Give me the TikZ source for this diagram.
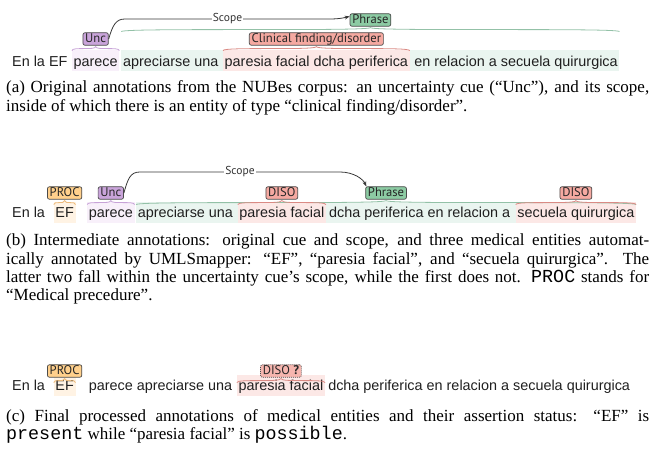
\documentclass[tikz,border=0pt]{standalone}
\usepackage{fontspec}
\setmainfont{Liberation Serif}
\setmonofont{Liberation Mono}[Scale=1.08]
\newfontfamily\sentfont{Liberation Sans}
\newfontfamily\labfont{PT Sans}
\usetikzlibrary{calc,arrows.meta,backgrounds}

\definecolor{boxline}{HTML}{4A4A4A}
\definecolor{uncfill}{HTML}{C9A4DA}
\definecolor{phrfill}{HTML}{8CCBA3}
\definecolor{disofill}{HTML}{F5A9A1}
\definecolor{procfill}{HTML}{FFD08C}
\definecolor{uncbg}{HTML}{F8F0FA}
\definecolor{phrbg}{HTML}{EAF5F0}
\definecolor{disobg}{HTML}{FCE8E6}
\definecolor{procbg}{HTML}{FFF3E4}
\definecolor{unccurly}{HTML}{C7A3D7}
\definecolor{phrcurly}{HTML}{93C1A7}
\definecolor{disocurly}{HTML}{DA8A84}
\definecolor{proccurly}{HTML}{EDBB7C}

\hbadness=10000

% highlight behind a run of words, from the first node to the last
\newcommand\hlspan[3]{%
  \fill[#1] ($(#2.base west)+(-1.5,-16)$) rectangle ($(#3.base east)+(1.5,5)$);}
% thin curly bracket joining a label to the words it annotates
\newcommand\spancurly[4]{%
  \draw[#1, curly]
    ($(#2.base west |- #4.south)+(-1.5,5)$)
    .. controls ($(#2.base west |- #4.south)+(-1.5,1)$) and ($(#4.south)+(0,5)$) ..
    ($(#4.south)+(0,1)$)
    .. controls ($(#4.south)+(0,5)$) and ($(#3.base east |- #4.south)+(1.5,1)$) ..
    ($(#3.base east |- #4.south)+(1.5,5)$);}

\tikzset{
  word/.style={font=\sentfont\fontsize{14.4}{16}\selectfont, text=black!88,
    inner sep=0pt, anchor=base west},
  lab/.style={font=\labfont\fontsize{12.6}{13}\selectfont, draw=boxline,
    line width=0.7pt, rounded corners=2pt, inner xsep=2.3pt, inner ysep=0pt,
    minimum height=12.5pt, text height=8.6pt, text depth=2.4pt, text=black!85},
  curly/.style={line width=0.8pt},
  arcline/.style={draw=black!78, line width=0.8pt},
  arctip/.style={-{Stealth[length=5pt,width=3.8pt]}},
  scopelab/.style={font=\labfont\fontsize{11.5}{12}\selectfont, fill=white,
    inner xsep=1pt, inner ysep=0.5pt, text=black!80},
  captext/.style={font=\fontsize{17}{19}\selectfont, inner sep=0pt,
    anchor=base west, text=black},
}

\begin{document}
\begin{tikzpicture}[x=1pt, y=-1pt]
\useasboundingbox (0,0) rectangle (651,454);

% ---------------- (a) original annotations ----------------
\node[word] (a1) at (12,66.5) {En la EF};
\node[word] (a2) at ($(a1.base east)+(5.8,0)$) {parece};
\node[word] (a3) at ($(a2.base east)+(5,0)$) {apreciarse una};
\node[word] (a4) at ($(a3.base east)+(6,0)$) {paresia facial dcha periferica};
\node[word] (a5) at ($(a4.base east)+(6,0)$) {en relacion a secuela quirurgica};
\begin{scope}[on background layer]
  \hlspan{uncbg}{a2}{a2}
  \hlspan{phrbg}{a3}{a5}
  \hlspan{disobg}{a4}{a4}
\end{scope}
\coordinate (ma2) at ($(a2.base west)!0.5!(a2.base east)$);
\coordinate (ma35) at ($(a3.base west)!0.5!(a5.base east)$);
\coordinate (ma4) at ($(a4.base west)!0.5!(a4.base east)$);
\node[lab, fill=uncfill] (unca) at (ma2 |- 0,39) {Unc};
\node[lab, fill=phrfill] (phra) at (ma35 |- 0,20) {Phrase};
\node[lab, fill=disofill] (clina) at (ma4 |- 0,39) {Clinical finding/disorder};
\spancurly{unccurly}{a2}{a2}{unca}
\spancurly{phrcurly}{a3}{a5}{phra}
\spancurly{disocurly}{a4}{a4}{clina}
\coordinate (sa1) at (125,19);
\coordinate (sa2) at (330,19);
\draw[arcline, arctip] (unca.east) .. controls +(4,-14) and +(-9,0) .. (sa1)
  -- node[scopelab] (scopea) {Scope} (sa2)
  .. controls +(10,0) and +(-4,1) .. ($(phra.north west)+(0,3)$);

\node[captext] (capa1) at (6,93) {\hbox to 643pt{(a) Original annotations from the NUBes corpus: an uncertainty cue (“Unc”), and its scope,}};
\node[captext] (capa2) at (6,111.5) {inside of which there is an entity of type “clinical finding/disorder”.};

% ---------------- (b) intermediate annotations ----------------
\node[word] (b1) at (12,218) {En la};
\node[word] (b2) at ($(b1.base east)+(10,0)$) {EF};
\node[word] (b3) at ($(b2.base east)+(14.6,0)$) {parece};
\node[word] (b4) at ($(b3.base east)+(4.5,0)$) {apreciarse una};
\node[word] (b5) at ($(b4.base east)+(6,0)$) {paresia facial};
\node[word] (b6) at ($(b5.base east)+(4.5,0)$) {dcha periferica en relacion a};
\node[word] (b7) at ($(b6.base east)+(7,0)$) {secuela quirurgica};
\begin{scope}[on background layer]
  \hlspan{procbg}{b2}{b2}
  \hlspan{uncbg}{b3}{b3}
  \hlspan{phrbg}{b4}{b7}
  \hlspan{disobg}{b5}{b5}
  \hlspan{disobg}{b7}{b7}
\end{scope}
\coordinate (mb2) at ($(b2.base west)!0.5!(b2.base east)$);
\coordinate (mb3) at ($(b3.base west)!0.5!(b3.base east)$);
\coordinate (mb47) at ($(b4.base west)!0.5!(b7.base east)$);
\coordinate (mb5) at ($(b5.base west)!0.5!(b5.base east)$);
\coordinate (mb7) at ($(b7.base west)!0.5!(b7.base east)$);
\node[lab, fill=procfill] (procb) at (mb2 |- 0,193) {PROC};
\node[lab, fill=uncfill] (uncb) at (mb3 |- 0,193) {Unc};
\node[lab, fill=phrfill] (phrb) at (mb47 |- 0,193) {Phrase};
\node[lab, fill=disofill] (disob1) at (mb5 |- 0,193) {DISO};
\node[lab, fill=disofill] (disob2) at (mb7 |- 0,193) {DISO};
\spancurly{proccurly}{b2}{b2}{procb}
\spancurly{unccurly}{b3}{b3}{uncb}
\spancurly{phrcurly}{b4}{b7}{phrb}
\spancurly{disocurly}{b5}{b5}{disob1}
\spancurly{disocurly}{b7}{b7}{disob2}
\coordinate (sb1) at (140,172);
\coordinate (sb2) at (340,172);
\draw[arcline, arctip] (uncb.east) .. controls +(4,-14) and +(-10,0) .. (sb1)
  -- node[scopelab] (scopeb) {Scope} (sb2)
  .. controls +(14,0) and +(-3,-7) .. ($(phrb.north west)+(1,0)$);

\node[captext] (capb1) at (6,246) {\hbox to 643pt{(b) Intermediate annotations: original cue and scope, and three medical entities automat-}};
\node[captext] (capb2) at (6,264.3) {\hbox to 643pt{ically annotated by UMLSmapper: “EF”, “paresia facial”, and “secuela quirurgica”. The}};
\node[captext] (capb3) at (6,282.6) {\hbox to 643pt{latter two fall within the uncertainty cue’s scope, while the first does not. \texttt{PROC} stands for}};
\node[captext] (capb4) at (6,300.9) {“Medical precedure”.};

% ---------------- (c) final annotations ----------------
\node[word] (c1) at (12,391) {En la};
\node[word] (c2) at ($(c1.base east)+(10,0)$) {EF};
\node[word] (c3) at ($(c2.base east)+(14.6,0)$) {parece apreciarse una};
\node[word] (c4) at ($(c3.base east)+(6,0)$) {paresia facial};
\node[word] (c5) at ($(c4.base east)+(4.5,0)$) {dcha periferica en relacion a secuela quirurgica};
\begin{scope}[on background layer]
  \hlspan{procbg}{c2}{c2}
  \hlspan{disobg}{c4}{c4}
\end{scope}
\coordinate (mc2) at ($(c2.base west)!0.5!(c2.base east)$);
\coordinate (mc4) at ($(c4.base west)!0.5!(c4.base east)$);
\node[lab, fill=procfill] (procc) at (mc2 |- 0,371) {PROC};
\node[lab, fill=disofill!85, dash pattern=on 1pt off 1pt] (disoc) at (mc4 |- 0,371) {DISO \textbf{?}};
\spancurly{proccurly}{c2}{c2}{procc}
\spancurly{disocurly}{c4}{c4}{disoc}

\node[captext] (capc1) at (6,421) {\hbox to 643pt{(c) Final processed annotations of medical entities and their assertion status: “EF” is}};
\node[captext] (capc2) at (6,439) {\texttt{present} while “paresia facial” is \texttt{possible}.};
\end{tikzpicture}
\end{document}
